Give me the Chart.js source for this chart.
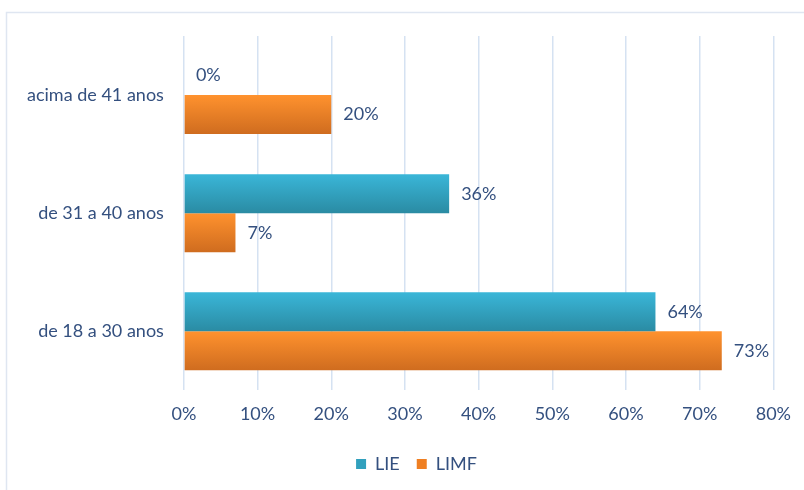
<!DOCTYPE html>
<html>
<head>
<meta charset="utf-8">
<script src="https://cdn.jsdelivr.net/npm/chart.js@4.4.1/dist/chart.umd.min.js"></script>
<style>
  html, body { margin: 0; padding: 0; background: #fff; }
  #wrap { width: 804px; height: 490px; }
</style>
</head>
<body>
<div id="wrap"><canvas id="chart" width="804" height="490"></canvas></div>
<script>
const categories = ['acima de 41 anos', 'de 31 a 40 anos', 'de 18 a 30 anos'];
const lieValues = [0, 36, 64];
const limfValues = [20, 7, 73];
const seriesNames = ['LIE', 'LIMF'];

const textColor = '#34507f';
const fontFamily = 'Lato, "Open Sans", sans-serif';
const fontSize = 18;

// top -> bottom colour stops for each series
const gradientStops = [
  ['#3ab6d8', '#2a8ba3'],
  ['#ff922e', '#cf6c1f']
];

// bars get a vertical gradient, like the office style
const gradientBars = {
  id: 'gradientBars',
  beforeDatasetsDraw(chart) {
    const ctx = chart.ctx;
    chart.data.datasets.forEach((ds, i) => {
      const meta = chart.getDatasetMeta(i);
      meta.data.forEach(bar => {
        const top = bar.y - bar.height / 2;
        const g = ctx.createLinearGradient(0, top, 0, top + bar.height);
        g.addColorStop(0, gradientStops[i][0]);
        g.addColorStop(1, gradientStops[i][1]);
        bar.options = { ...bar.options, backgroundColor: g };
      });
    });
  }
};

// percentage text right of each bar end
const valueLabels = {
  id: 'valueLabels',
  afterDatasetsDraw(chart) {
    const ctx = chart.ctx;
    ctx.save();
    ctx.font = fontSize + 'px ' + fontFamily;
    ctx.fillStyle = textColor;
    ctx.textBaseline = 'middle';
    ctx.textAlign = 'left';
    chart.data.datasets.forEach((ds, i) => {
      chart.getDatasetMeta(i).data.forEach((bar, j) => {
        ctx.fillText(ds.data[j] + '%', bar.x + 12, bar.y);
      });
    });
    ctx.restore();
  }
};

// thin frame round the whole chart, legend nudged under the plot centre
const frame = {
  id: 'frame',
  afterLayout(chart) {
    chart.legend.left += 36;
  },
  beforeDraw(chart) {
    const ctx = chart.ctx;
    ctx.save();
    ctx.strokeStyle = '#dfe6f1';
    ctx.lineWidth = 1.5;
    ctx.strokeRect(6.5, 12.5, chart.width + 20, chart.height + 20);
    ctx.restore();
  }
};

new Chart(document.getElementById('chart'), {
  type: 'bar',
  data: {
    labels: categories,
    datasets: [
      { label: seriesNames[0], data: lieValues, backgroundColor: '#31a0bd' },
      { label: seriesNames[1], data: limfValues, backgroundColor: '#ef7f22' }
    ]
  },
  options: {
    indexAxis: 'y',
    responsive: false,
    animation: false,
    devicePixelRatio: 1,
    categoryPercentage: 0.66,
    barPercentage: 1,
    layout: { padding: { top: 36, right: 14, left: 7, bottom: 7 } },
    scales: {
      x: {
        min: 0,
        max: 80,
        ticks: {
          stepSize: 10,
          color: textColor,
          font: { family: fontFamily, size: fontSize },
          padding: 13,
          callback: v => v + '%'
        },
        grid: { color: '#d5e2f2', lineWidth: 1.5, drawTicks: false },
        border: { display: false }
      },
      y: {
        ticks: {
          color: textColor,
          font: { family: fontFamily, size: fontSize },
          padding: 20
        },
        grid: { display: false, drawTicks: false },
        border: { display: false }
      }
    },
    plugins: {
      legend: {
        position: 'bottom',
        labels: {
          color: textColor,
          font: { family: fontFamily, size: fontSize },
          boxWidth: 10,
          boxHeight: 10,
          padding: 17
        }
      },
      tooltip: { enabled: false }
    }
  },
  plugins: [frame, gradientBars, valueLabels]
});
</script>
</body>
</html>
